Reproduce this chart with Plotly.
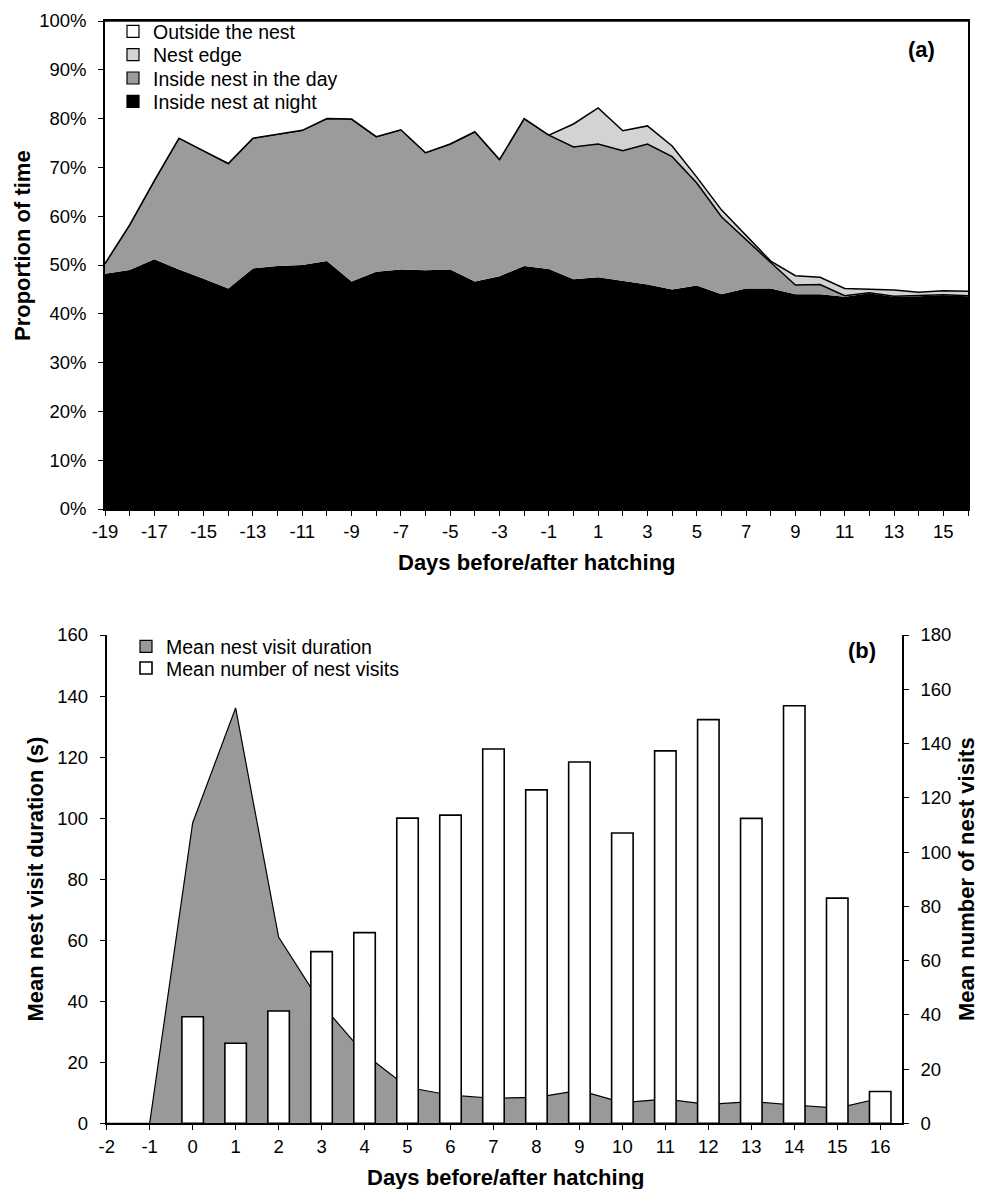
import plotly.graph_objects as go

# ---------------- Panel (a) data ----------------
days_a = [-19, -18, -17, -16, -15, -14, -13, -12, -11, -10, -9, -8, -7, -6, -5, -4, -3, -2,
          -1, 0, 1, 2, 3, 4, 5, 6, 7, 8, 9, 10, 11, 12, 13, 14, 15, 16]
tick_a = [-19, -17, -15, -13, -11, -9, -7, -5, -3, -1, 1, 3, 5, 7, 9, 11, 13, 15]

night = [48.2, 49.0, 51.2, 49.1, 47.2, 45.2, 49.3, 49.8, 50.0, 50.8, 46.6, 48.6, 49.1, 48.9,
         49.1, 46.6, 47.7, 49.8, 49.2, 47.1, 47.5, 46.7, 46.0, 45.0, 45.8, 44.0, 45.2, 45.2,
         44.0, 44.0, 43.5, 44.2, 43.5, 43.6, 43.8, 43.6]
day_in = [2.1, 9.2, 16.1, 26.9, 26.2, 25.6, 26.7, 27.0, 27.6, 29.2, 33.3, 27.7, 28.6, 24.1,
          25.7, 30.7, 23.9, 30.2, 27.4, 27.1, 27.3, 26.7, 28.8, 27.2, 21.0, 15.9, 9.9, 5.3,
          1.9, 2.0, 0.2, 0.1, 0.1, 0.1, 0.1, 0.1]
edge = [0, 0, 0, 0, 0, 0, 0, 0, 0, 0, 0, 0, 0, 0, 0, 0, 0, 0,
        0, 4.7, 7.4, 4.1, 3.7, 2.2, 1.2, 1.4, 0.9, 0.3, 1.9, 1.5, 1.5, 0.7, 1.3, 0.7, 0.8, 0.9]
outside = [49.7, 41.8, 32.7, 24.0, 26.6, 29.2, 24.0, 23.2, 22.4, 20.0, 20.1, 23.7, 22.3, 27.0,
           25.2, 22.7, 28.4, 20.0, 23.4, 21.1, 17.8, 22.5, 21.5, 25.6, 32.0, 38.7, 44.0, 49.2,
           52.2, 52.5, 54.8, 55.0, 55.1, 55.6, 55.3, 55.4]

# ---------------- Panel (b) data ----------------
days_b = [-2, -1, 0, 1, 2, 3, 4, 5, 6, 7, 8, 9, 10, 11, 12, 13, 14, 15, 16]
duration = [0, 0, 98.4, 136.1, 61.0, 39.0, 22.7, 11.8, 9.2, 8.2, 8.5, 10.8, 6.8, 7.9, 6.2,
            7.1, 6.0, 5.0, 8.2]
days_visits = [0, 1, 2, 3, 4, 5, 6, 7, 8, 9, 10, 11, 12, 13, 14, 15, 16]
visits = [39.3, 29.5, 41.4, 63.3, 70.3, 112.5, 113.6, 138.0, 122.9, 133.2, 107.0, 137.3,
          148.8, 112.4, 153.9, 83.0, 11.7]

FONT = "Liberation Sans, Arial, sans-serif"
GRAY = "#9b9b9b"
LIGHT = "#d3d3d3"
OFF = 8                      # page body margin
W, H = 984 - OFF, 1189 - OFF
TICK = 18.5
LEGF = 19.5
BOLD = 22

fig = go.Figure()

# stacked areas (a)
layers = [
    ("Inside nest at night", night, "black", 0),
    ("Inside nest in the day", day_in, GRAY, 1.5),
    ("Nest edge", edge, LIGHT, 1.5),
    ("Outside the nest", outside, "white", 1.5),
]
for name, vals, col, lw in layers:
    fig.add_trace(go.Scatter(
        x=days_a, y=vals, name=name, stackgroup="a", mode="lines",
        fillcolor=col, line=dict(color="black", width=lw),
        showlegend=False, xaxis="x", yaxis="y", hoverinfo="skip"))

# legend keys for (a), each in its own legend for precise placement
legend_items_a = [("Outside the nest", "white"), ("Nest edge", LIGHT),
                  ("Inside nest in the day", GRAY), ("Inside nest at night", "black")]
for i, (name, col) in enumerate(legend_items_a):
    fig.add_trace(go.Bar(x=[None], y=[None], name=name, legend=f"legend{i+1 if i else ''}",
                         marker=dict(color=col, line=dict(color="black", width=1.2)),
                         xaxis="x", yaxis="y"))

# panel (b)
fig.add_trace(go.Scatter(x=days_b, y=duration, mode="lines", fill="tozeroy",
                         fillcolor="#999999", line=dict(color="black", width=1.2),
                         showlegend=False, xaxis="x2", yaxis="y3", hoverinfo="skip"))
fig.add_trace(go.Bar(x=days_visits, y=visits, width=0.5, name="Mean number of nest visits",
                     marker=dict(color="white", line=dict(color="black", width=1.6)),
                     legend="legend6", xaxis="x2", yaxis="y4"))
fig.add_trace(go.Bar(x=[None], y=[None], name="Mean nest visit duration", legend="legend5",
                     marker=dict(color="#999999", line=dict(color="black", width=1.2)),
                     xaxis="x2", yaxis="y3"))

def py(px):
    return 1 - (px - OFF) / H

def pxx(px):
    return (px - OFF) / W

leg_common = dict(font=dict(family=FONT, size=LEGF, color="black"), bgcolor="rgba(0,0,0,0)",
                  xanchor="left", yanchor="middle", borderwidth=0)
legend_y_a = [31.7, 55.0, 78.3, 101.7]
lx_a = pxx(113)
legs = {}
for i, yy in enumerate(legend_y_a):
    key = "legend" if i == 0 else f"legend{i+1}"
    legs[key] = dict(x=lx_a, y=py(yy), **leg_common)
legs["legend5"] = dict(x=pxx(126), y=py(646.7), **leg_common)
legs["legend6"] = dict(x=pxx(126), y=py(668.3), **leg_common)

axis_common = dict(showgrid=False, zeroline=False, ticks="outside", ticklen=5,
                   tickcolor="black", linecolor="black", automargin=False,
                   tickfont=dict(family=FONT, size=TICK, color="black"))

fig.update_layout(
    width=W, height=H, margin=dict(l=0, r=0, t=0, b=0, autoexpand=False),
    paper_bgcolor="white", plot_bgcolor="white", barmode="overlay",
    font=dict(family=FONT, color="black"),
    xaxis=dict(domain=[pxx(105), pxx(968)], range=[-19, 16], anchor="y",
               tickvals=days_a, ticktext=[str(d) if d in tick_a else "" for d in days_a],
               showline=True, linewidth=1.5, mirror=True, **axis_common),
    yaxis=dict(domain=[py(509), py(21)], range=[0, 100], dtick=10, ticksuffix="%",
               anchor="x", showline=True, linewidth=1.5, mirror=True,
               ticklabelstandoff=8, **axis_common),
    xaxis2=dict(domain=[pxx(106.7), pxx(901.7)], range=[-2, 16.5], anchor="y3",
                tickvals=days_b, ticktext=[str(d) for d in days_b],
                showline=True, linewidth=2, **axis_common),
    yaxis3=dict(domain=[py(1123.3), py(635)], range=[0, 160], dtick=20, anchor="x2",
                showline=True, linewidth=2, ticklabelstandoff=8, **axis_common),
    yaxis4=dict(domain=[py(1123.3), py(635)], range=[0, 180], dtick=20, anchor="x2",
                overlaying="y3", side="right", showline=True, linewidth=2,
                ticklabelstandoff=8, **axis_common),
    **legs,
)

bold = dict(family=FONT, size=BOLD, color="black")
annots = [
    dict(text="<b>(a)</b>", x=pxx(921.7), y=py(50)),
    dict(text="<b>(b)</b>", x=pxx(861.7), y=py(650)),
    dict(text="<b>Days before/after hatching</b>", x=pxx(536.5), y=py(563)),
    dict(text="<b>Days before/after hatching</b>", x=pxx(506), y=py(1177)),
    dict(text="<b>Proportion of time</b>", x=pxx(22), y=py(246), textangle=-90),
    dict(text="<b>Mean nest visit duration (s)</b>", x=pxx(34.5), y=py(879), textangle=-90),
    dict(text="<b>Mean number of nest visits</b>", x=pxx(966), y=py(879), textangle=-90),
]
for a in annots:
    fig.add_annotation(xref="paper", yref="paper", showarrow=False, font=bold,
                       xanchor="center", yanchor="middle", **a)

fig.write_html("out.html")
